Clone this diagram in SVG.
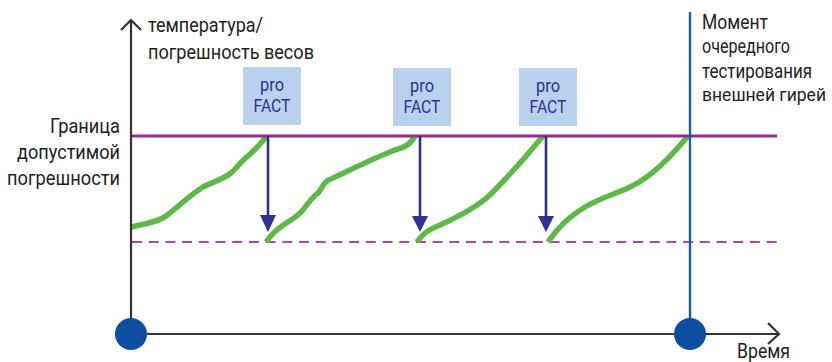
<svg xmlns="http://www.w3.org/2000/svg" width="832" height="362" viewBox="0 0 832 362">
<defs>
<style>
.lbl{font-family:Roboto,"Liberation Sans",sans-serif;font-size:21px;fill:#222222}
.rl{font-size:19.5px}
.rs{font-size:18.5px}
.pf{font-family:Roboto,"Liberation Sans",sans-serif;font-size:19px;fill:#2e3192;text-anchor:middle}
.box{fill:#b9d1ed}
.curve{fill:none;stroke:#5dba47;stroke-width:5.5;stroke-linecap:butt;stroke-linejoin:round}
.axis{fill:none;stroke:#333333;stroke-width:2.2}
.dot{fill:#0d4ea0}
.arr{stroke:#2e3192;stroke-width:2.6;fill:none}
.head{fill:#2e3192}
</style>
</defs>
<rect width="832" height="362" fill="#ffffff"/>

<g id="limit-lines">
<line x1="131" y1="242" x2="777" y2="242" stroke="#a44ba6" stroke-width="2.2" stroke-dasharray="10 6.7" stroke-dashoffset="-1"/>
</g>

<g id="curves">
<path class="curve" d="M131,227 C145,224 158,222 166,216 C178,207 190,195 203,187 C212,182 222,180 231,173 C238,167 242,160 248,156 C255,150 262,142 267,136"/>
<path class="curve" d="M266,242 C271,235 276,230 282,226 C290,220 296,218 302,211 C308,204 312,197 318,193 C323,188 322,182 333,178 C350,170 370,160 390,152 C402,147 408,148 415,136"/>
<path class="curve" d="M417,242 C422,234 428,230 440,225 C460,216 478,206 490,195 C505,180 525,158 543,136"/>
<path class="curve" d="M548,242 C556,230 568,217 585,207 C600,198 615,194 628,188 C650,178 668,160 688,136"/>
</g>

<g id="limit-line">
<line x1="131" y1="136" x2="777" y2="136" stroke="#942a91" stroke-width="3"/>
</g>

<g id="test-moment-line">
<line x1="690" y1="12" x2="690" y2="334" stroke="#1c5cab" stroke-width="2.4"/>
</g>

<g id="axes">
<line class="axis" x1="131" y1="20" x2="131" y2="334"/>
<polyline class="axis" points="121,30 131,20 141,30"/>
<line class="axis" x1="131" y1="334" x2="778" y2="334"/>
<polyline class="axis" points="768,323 779,334 768,344"/>
<circle class="dot" cx="131" cy="334" r="16"/>
<circle class="dot" cx="690" cy="334" r="16"/>
</g>

<g id="connectors">
<line class="arr" x1="268" y1="136" x2="268" y2="217"/>
<polygon class="head" points="260,215 276,215 268,232"/>
<line class="arr" x1="420" y1="136" x2="420" y2="218"/>
<polygon class="head" points="412,216 428,216 420,232"/>
<line class="arr" x1="546" y1="136" x2="546" y2="218"/>
<polygon class="head" points="538,216 554,216 546,232"/>
</g>

<g id="profact-1">
<rect class="box" x="243" y="67" width="58" height="58"/>
<text class="pf" x="272" y="91" textLength="24" lengthAdjust="spacingAndGlyphs">pro</text>
<text class="pf" x="272" y="112" textLength="37" lengthAdjust="spacingAndGlyphs">FACT</text>
</g>
<g id="profact-2">
<rect class="box" x="393" y="68" width="58" height="58"/>
<text class="pf" x="422" y="92" textLength="24" lengthAdjust="spacingAndGlyphs">pro</text>
<text class="pf" x="422" y="113" textLength="37" lengthAdjust="spacingAndGlyphs">FACT</text>
</g>
<g id="profact-3">
<rect class="box" x="519" y="68" width="58" height="58"/>
<text class="pf" x="548" y="92" textLength="24" lengthAdjust="spacingAndGlyphs">pro</text>
<text class="pf" x="548" y="113" textLength="37" lengthAdjust="spacingAndGlyphs">FACT</text>
</g>

<g id="y-label">
<text class="lbl" x="148" y="32" textLength="115" lengthAdjust="spacingAndGlyphs">температура/</text>
<text class="lbl" x="148" y="59" textLength="166" lengthAdjust="spacingAndGlyphs">погрешность весов</text>
</g>

<g id="limit-label">
<text class="lbl" x="50" y="133" textLength="70" lengthAdjust="spacingAndGlyphs">Граница</text>
<text class="lbl" x="17" y="159" textLength="103" lengthAdjust="spacingAndGlyphs">допустимой</text>
<text class="lbl" x="7" y="185" textLength="113" lengthAdjust="spacingAndGlyphs">погрешности</text>
</g>

<g id="test-label">
<text class="lbl rl" x="702" y="29" textLength="66" lengthAdjust="spacingAndGlyphs">Момент</text>
<text class="lbl rl" x="702" y="53" textLength="88" lengthAdjust="spacingAndGlyphs">очередного</text>
<text class="lbl rl" x="702" y="78" textLength="110" lengthAdjust="spacingAndGlyphs">тестирования</text>
<text class="lbl rs" x="702" y="101" textLength="124" lengthAdjust="spacingAndGlyphs">внешней гирей</text>
</g>

<g id="x-label">
<text class="lbl" x="737" y="358" textLength="53" lengthAdjust="spacingAndGlyphs">Время</text>
</g>
</svg>
